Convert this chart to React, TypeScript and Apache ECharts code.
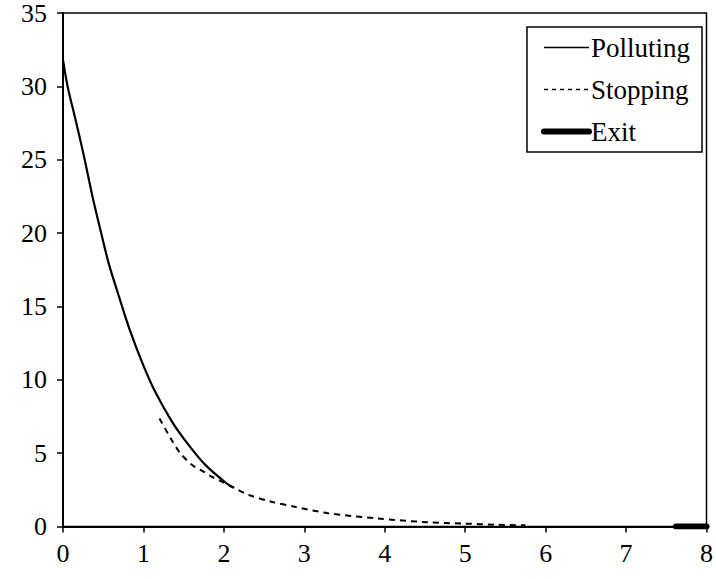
import React, { useEffect, useRef } from "react";
import * as echarts from "echarts";

const pollutingX = [0, 0.057, 0.17, 0.27, 0.37, 0.47, 0.57, 0.7, 0.83, 0.99, 1.135, 1.36, 1.57, 1.77, 2.02, 2.12];
const pollutingY = [31.8, 30, 27.4, 25, 22.4, 20.1, 17.9, 15.6, 13.4, 11.1, 9.3, 7.1, 5.5, 4.2, 3.0, 2.65];

const stoppingX = [1.2, 1.34, 1.46, 1.61, 1.75, 1.85, 2.02, 2.18, 2.31, 2.59, 2.88, 3.29, 3.91, 4.53, 4.98, 5.4, 5.75];
const stoppingY = [7.36, 6.0, 4.98, 4.18, 3.73, 3.39, 2.94, 2.48, 2.15, 1.69, 1.35, 0.91, 0.55, 0.29, 0.2, 0.12, 0.08];

const exitX = [7.62, 8];
const exitY = [0, 0];

const xTicks = [0, 1, 2, 3, 4, 5, 6, 7, 8];
const yTicks = [0, 5, 10, 15, 20, 25, 30, 35];

const zip = (xs: number[], ys: number[]) => xs.map((x, i) => [x, ys[i]]);

const FONT = "Liberation Serif";

export default function App() {
  const ref = useRef<HTMLDivElement>(null);
  useEffect(() => {
    if (!ref.current) return;
    const chart = echarts.init(ref.current, null, { renderer: "svg" });
    const hidden = { color: "transparent", borderColor: "transparent", borderWidth: 0, opacity: 0 };
    chart.setOption({
      animation: false,
      backgroundColor: "#fff",
      textStyle: { fontFamily: FONT },
      grid: {
        left: 63,
        right: 4,
        top: 13,
        bottom: 52.5,
        show: true,
        borderColor: "#000",
        borderWidth: 1.5,
        backgroundColor: "transparent",
      },
      legend: {
        orient: "vertical",
        right: 14,
        top: 27,
        padding: [7, 12, 7, 14],
        borderColor: "#000",
        borderWidth: 1.5,
        backgroundColor: "#fff",
        itemWidth: 45,
        itemHeight: 14,
        itemGap: 15,
        itemStyle: hidden,
        textStyle: { fontFamily: FONT, fontSize: 27, color: "#000", padding: [0, 0, 0, -3] },
        data: [
          { name: "Polluting", itemStyle: hidden, lineStyle: { color: "#000", width: 1.5, type: "solid" } },
          { name: "Stopping", itemStyle: hidden, lineStyle: { color: "#000", width: 1.5, type: [4, 4] } },
          { name: "Exit", itemStyle: hidden, lineStyle: { color: "#000", width: 6, type: "solid", cap: "round" } },
        ],
      },
      xAxis: {
        type: "value",
        min: xTicks[0],
        max: xTicks[xTicks.length - 1],
        interval: 1,
        axisLine: { show: true, lineStyle: { color: "#000", width: 2 } },
        axisTick: { show: true, length: 6, inside: false, lineStyle: { color: "#000", width: 1.5 } },
        axisLabel: { color: "#000", fontSize: 26, fontFamily: FONT, margin: 14 },
        splitLine: { show: false },
      },
      yAxis: {
        type: "value",
        min: yTicks[0],
        max: yTicks[yTicks.length - 1],
        interval: 5,
        axisLine: { show: true, lineStyle: { color: "#000", width: 2 } },
        axisTick: { show: true, length: 6, inside: false, lineStyle: { color: "#000", width: 1.5 } },
        axisLabel: { color: "#000", fontSize: 26, fontFamily: FONT, margin: 16 },
        splitLine: { show: false },
      },
      series: [
        {
          name: "Polluting",
          type: "line",
          data: zip(pollutingX, pollutingY),
          smooth: 0.3,
          symbol: "none",
          lineStyle: { color: "#000", width: 2.2 },
          itemStyle: { color: "#000" },
        },
        {
          name: "Stopping",
          type: "line",
          data: zip(stoppingX, stoppingY),
          smooth: 0.3,
          symbol: "none",
          lineStyle: { color: "#000", width: 2, type: [6, 5] },
          itemStyle: { color: "#000" },
        },
        {
          name: "Exit",
          type: "line",
          data: zip(exitX, exitY),
          symbol: "none",
          lineStyle: { color: "#000", width: 6, cap: "round" },
          itemStyle: { color: "#000" },
        },
      ],
    });
    return () => chart.dispose();
  }, []);
  return <div ref={ref} style={{ width: 716, height: 579, position: "absolute", left: 0, top: 0 }} />;
}
